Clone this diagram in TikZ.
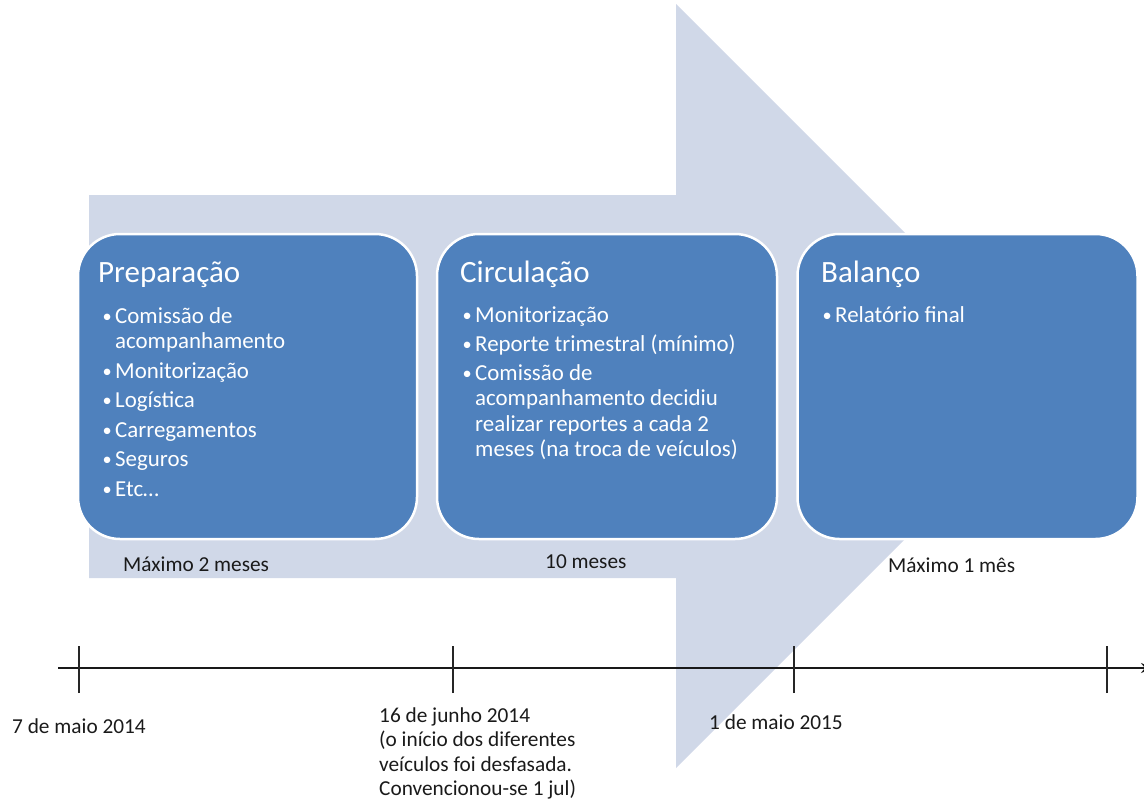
\documentclass[tikz,border=0pt]{standalone}
\usepackage{fontspec}
\setmainfont{Carlito}
\usetikzlibrary{arrows.meta}
\definecolor{arrowfill}{HTML}{D0D8E8}
\definecolor{boxfill}{HTML}{4F81BD}
\definecolor{txt}{HTML}{1A1A1A}
\newcommand{\bl}{\makebox[14pt][l]{\hspace{1.5pt}\raisebox{0.8pt}{\scalebox{0.8}{\textbullet}}}}
\newcommand{\ind}{\hspace*{14pt}}
\tikzset{
  phase/.style={draw=white, line width=2.5pt, fill=boxfill, rounded corners=42pt,
    minimum height=305pt, inner sep=0pt},
  ttl/.style={anchor=base west, text=white, font=\fontsize{31}{36}\selectfont, inner sep=0pt},
  items/.style={anchor=base west, text=white, font=\fontsize{22.9}{25.5}\selectfont, inner sep=0pt},
  lbl/.style={anchor=base west, text=txt, font=\fontsize{21.3}{24.5}\selectfont, inner sep=0pt},
  tick/.style={line width=1.4pt, black!85},
}
\begin{document}
\begin{tikzpicture}[x=1pt, y=-1pt]
\useasboundingbox (0,0) rectangle (1144,800);
% big background arrow
\fill[arrowfill] (89,195) -- (676,195) -- (676,4) -- (1058,386) -- (676,768) -- (676,578) -- (89,578) -- cycle;
% phase boxes
\node[phase, minimum width=339pt] (prep) at (247.5,386.5) {};
\node[phase, minimum width=340pt] (circ) at (607,386.5) {};
\node[phase, minimum width=340pt] (bal) at (967.5,386.5) {};
% titles
\node[ttl] (tprep) at (98,282) {Preparação};
\node[ttl] (tcirc) at (460,282) {Circulação};
\node[ttl] (tbal) at (821,282) {Balanço};
% bullet lists
\node[items] (iprep) at (101,323) {\begin{tabular}[t]{@{}l@{}}
\bl Comissão de\\ \ind acompanhamento\\[4pt]
\bl Monitorização\\[4pt]
\bl Logística\\[4pt]
\bl Carregamentos\\[4pt]
\bl Seguros\\[4pt]
\bl Etc…
\end{tabular}};
\node[items] (icirc) at (461,322) {\begin{tabular}[t]{@{}l@{}}
\bl Monitorização\\[4pt]
\bl Reporte trimestral (mínimo)\\[3pt]
\bl Comissão de\\ \ind acompanhamento decidiu\\ \ind realizar reportes a cada 2\\ \ind meses (na troca de veículos)
\end{tabular}};
\node[items] (ibal) at (821,322) {\begin{tabular}[t]{@{}l@{}}
\bl Relatório final
\end{tabular}};
% durations
\node[lbl] (d1) at (123,571) {Máximo 2 meses};
\node[lbl] (d2) at (545,568) {10 meses};
\node[lbl] (d3) at (888,572) {Máximo 1 mês};
% timeline
\coordinate (tl0) at (58,668);
\coordinate (tl1) at (1153,668);
\draw[line width=2pt, black!90, -{Stealth[length=12pt,width=10pt]}] (tl0) -- (tl1);
\coordinate (t1) at (79,668);
\coordinate (t2) at (453,668);
\coordinate (t3) at (794,668);
\coordinate (t4) at (1107,668);
\foreach \t in {t1,t2,t3,t4} \draw[tick] ([yshift=-25pt]\t) -- ([yshift=22pt]\t);
% dates
\node[lbl] (date1) at (12,733) {7 de maio 2014};
\node[lbl] (date2) at (379,722) {\begin{tabular}[t]{@{}l@{}}16 de junho 2014\\(o início dos diferentes\\veículos foi desfasada.\\Convencionou-se 1 jul)\end{tabular}};
\node[lbl] (date3) at (709,729) {1 de maio 2015};
\end{tikzpicture}
\end{document}
